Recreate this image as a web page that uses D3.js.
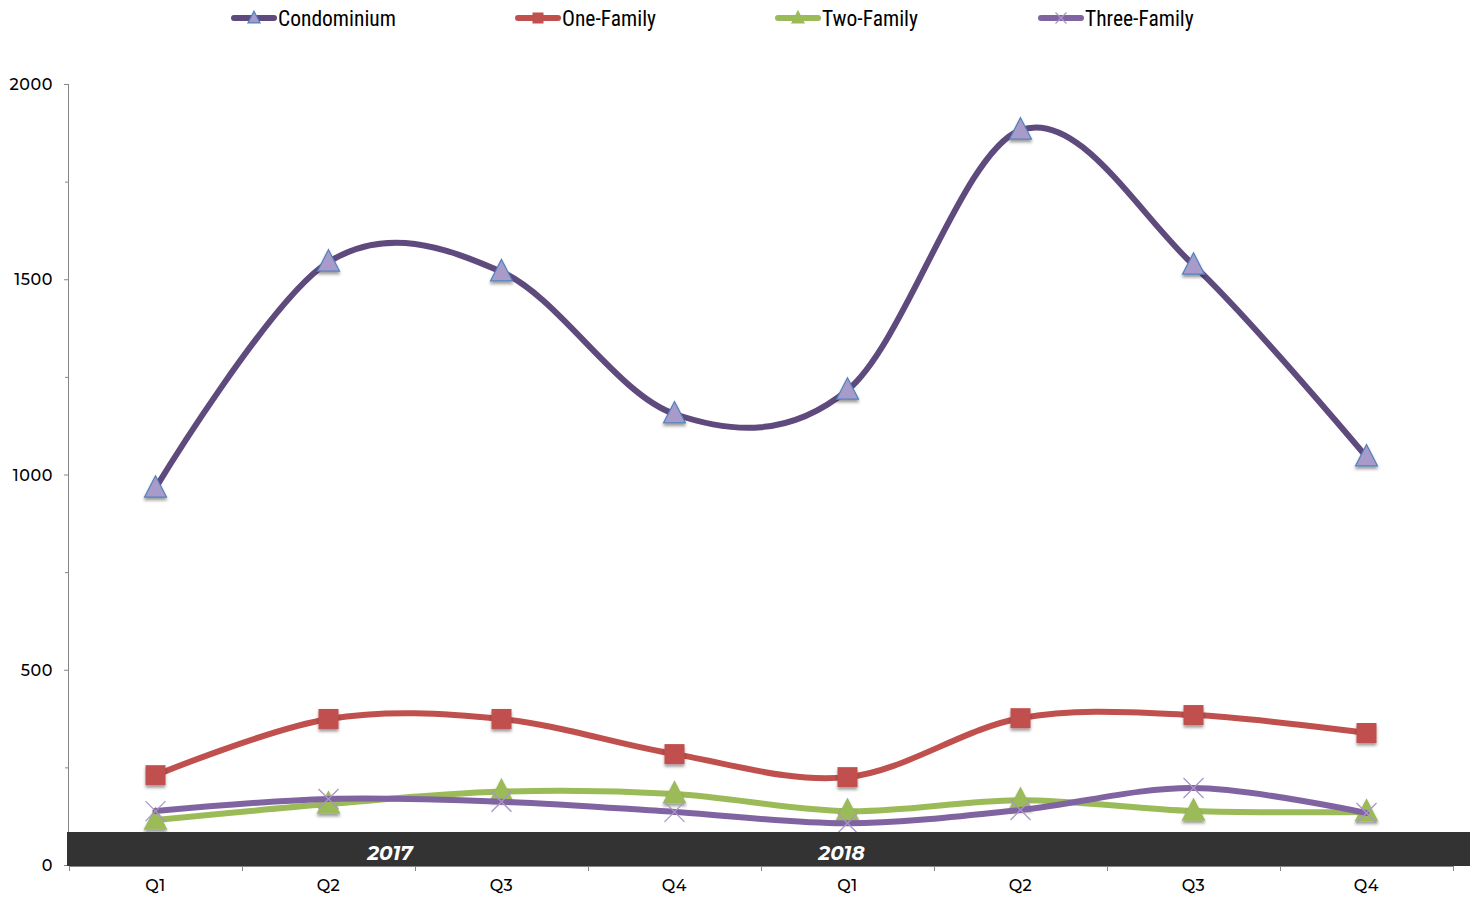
<!DOCTYPE html>
<html><head><meta charset="utf-8">
<script src="https://cdn.jsdelivr.net/npm/d3@7"></script>
<style>body{margin:0;background:#fff}svg{display:block}</style>
</head><body><svg id="c" width="1470" height="900"></svg>
<script>
const quarters = ["Q1","Q2","Q3","Q4","Q1","Q2","Q3","Q4"];
const years = ["2017","2018"];
const seriesNames = ["Condominium","One-Family","Two-Family","Three-Family"];
const condominium = [965,1544,1519,1155,1216,1882,1536,1045];
const oneFamily = [230,374,374,284,225,376,384,338];
const twoFamily = [115,156,188,182,138,166,138,136];
const threeFamily = [138,169,162,136,107,141,197,133];
const yTicks = [0,500,1000,1500,2000];

(function(){
const svg = d3.select("#c");
const pL = 69, pR = 1453, pT = 84, pB = 865;
const x = d3.scaleBand().domain(d3.range(quarters.length)).range([pL, pR]).padding(0);
const y = d3.scaleLinear().domain([0,2000]).range([pB, pT]);
const cx = i => x(i) + x.bandwidth()/2;
const FONT = "Montserrat, 'Noto Sans', sans-serif";

const defs = svg.append("defs");
const f = defs.append("filter").attr("id","sh").attr("x","-50%").attr("y","-50%").attr("width","200%").attr("height","200%");
f.append("feDropShadow").attr("dx",0).attr("dy",2.5).attr("stdDeviation",1.5).attr("flood-color","#000").attr("flood-opacity",0.4);

// axes
const yAxis = d3.axisLeft(y).tickValues(yTicks).tickSize(5).tickFormat(d3.format("d"));
const ya = svg.append("g").attr("transform",`translate(${pL},0)`).call(yAxis);
ya.selectAll("line").attr("stroke","#868686");
ya.select(".domain").attr("stroke","#868686").attr("d",`M-0.5,${pT}V${pB+1}`);
ya.selectAll("text").attr("font-family",FONT).attr("font-size",16).attr("font-weight",500).attr("letter-spacing","0.6px").attr("fill","#000").attr("x",-16).attr("dy","0.35em");
const yMinor = d3.axisLeft(y).tickValues([250,750,1250,1750]).tickSize(4).tickFormat("");
const ym = svg.append("g").attr("transform",`translate(${pL},0)`).call(yMinor);
ym.select(".domain").remove(); ym.selectAll("line").attr("stroke","#868686");

const xb = svg.append("g");
xb.append("line").attr("x1",pL).attr("x2",pR).attr("y1",pB+1.5).attr("y2",pB+1.5).attr("stroke","#868686");
xb.selectAll(".t").data(d3.range(quarters.length+1)).join("line")
  .attr("x1",i=> i<quarters.length ? x(i)+0.5 : pR+0.5).attr("x2",i=> i<quarters.length ? x(i)+0.5 : pR+0.5)
  .attr("y1",pB+1).attr("y2",pB+6).attr("stroke","#868686");
xb.selectAll(".q").data(quarters).join("text")
  .attr("x",(d,i)=>cx(i)).attr("y",891).attr("text-anchor","middle")
  .attr("font-family",FONT).attr("font-size",16).attr("font-weight",500).attr("letter-spacing","0.6px").attr("fill","#000").text(d=>d);

// series
const data = [
  {name:seriesNames[0], v:condominium, line:"#5f4a7d", fill:"#a99bc9", stroke:"#4f81bd", m:"tri"},
  {name:seriesNames[1], v:oneFamily, line:"#c0504d", fill:"#c0504d", stroke:"#c0504d", m:"sq"},
  {name:seriesNames[2], v:twoFamily, line:"#9bbb59", fill:"#9bbb59", stroke:"#9bbb59", m:"tri"},
  {name:seriesNames[3], v:threeFamily, line:"#8064a2", fill:"none", stroke:"#a995c6", m:"x"}
];
const lineGen = d3.line().x((d,i)=>cx(i)).y(d=>y(d)).curve(d3.curveCardinal.tension(0));
function marker(g, type, fill, stroke, s){
  if(type==="tri"){
    g.append("path").attr("d",`M0,${-s*0.62}L${s*0.55},${s*0.45}L${-s*0.55},${s*0.45}Z`).attr("fill",fill).attr("stroke",stroke).attr("stroke-width",1.2);
  } else if(type==="sq"){
    g.append("rect").attr("x",-s/2).attr("y",-s/2).attr("width",s).attr("height",s).attr("fill",fill);
  } else {
    g.append("path").attr("d",`M${-s/2},${-s/2}L${s/2},${s/2}M${s/2},${-s/2}L${-s/2},${s/2}`).attr("stroke",stroke).attr("stroke-width",1.3).attr("fill","none");
  }
}
data.forEach(s=>{
  const g = svg.append("g");
  g.append("path").datum(s.v).attr("d",lineGen).attr("fill","none").attr("stroke",s.line).attr("stroke-width",6).attr("stroke-linecap","round");
  s.v.forEach((v,i)=>{
    const mg = g.append("g").attr("transform",`translate(${cx(i)},${y(v)})`).attr("filter", s.m==="x"?null:"url(#sh)");
    marker(mg, s.m, s.fill, s.stroke, 20);
  });
});

// year band
svg.append("rect").attr("x",67).attr("y",832).attr("width",1470-67).attr("height",34).attr("fill","#333333");
const yearX = [(cx(1)+cx(2))/2 - 25, cx(4) - 6];
svg.selectAll(".yr").data(years).join("text")
  .attr("x",(d,i)=> yearX[i]).attr("y",860).attr("text-anchor","middle")
  .attr("font-family",FONT).attr("font-size",20).attr("font-weight","bold").attr("font-style","italic")
  .attr("fill","#fff").text(d=>d);

// legend
const legX = [232,516,776,1039];
data.forEach((s,i)=>{
  const g = svg.append("g").attr("transform",`translate(${legX[i]},18)`);
  g.append("line").attr("x1",2).attr("x2",42).attr("stroke",s.line).attr("stroke-width",6).attr("stroke-linecap","round");
  const mg = g.append("g").attr("transform","translate(22,0)");
  marker(mg, s.m, s.fill, s.stroke, 11);
  g.append("text").attr("x",46).attr("y",0).attr("dy","0.35em").attr("font-family","'Liberation Sans Narrow','Roboto Condensed','Liberation Sans',sans-serif")
    .attr("font-size",21.5).attr("fill","#000").text(s.name);
});
})();
</script></body></html>
